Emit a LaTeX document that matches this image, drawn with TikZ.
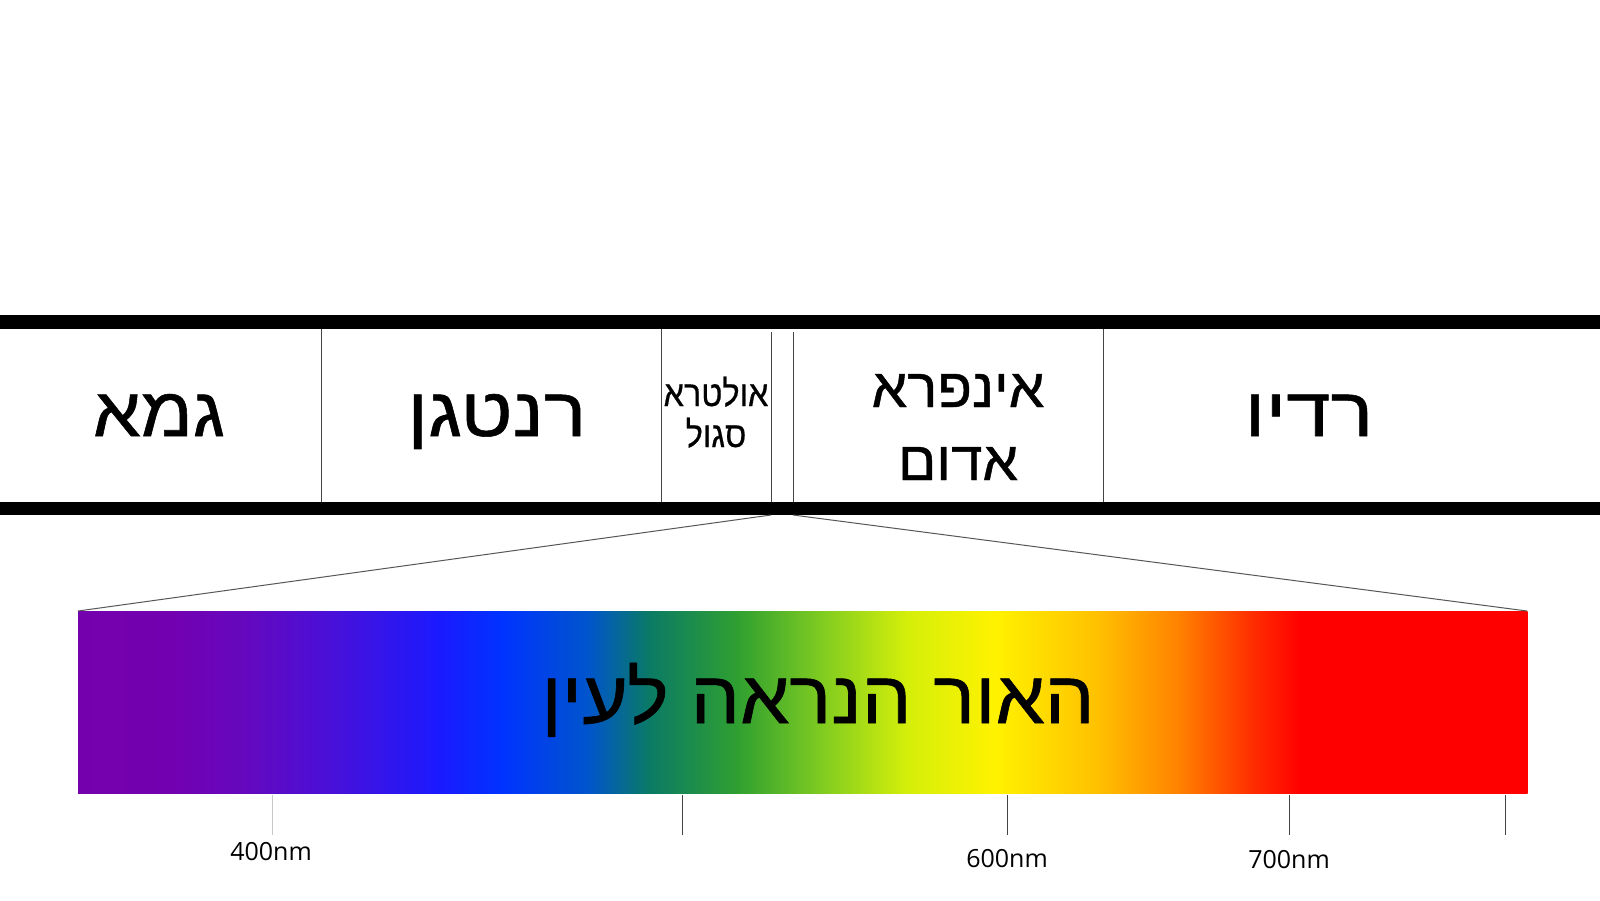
\documentclass[tikz,border=0pt]{standalone}
\usepackage{fontspec}
\TeXXeTstate=1
\newfontfamily\hebfont[Script=Hebrew,FakeStretch=1.1,FakeBold=0.8]{Liberation Sans}
\newfontfamily\hebwidefont[Script=Hebrew,FakeStretch=1.16,FakeBold=0.8]{Liberation Sans}
\newfontfamily\hebmidfont[Script=Hebrew,FakeStretch=1.03,FakeBold=0.8]{Liberation Sans}
\newfontfamily\hebvisfont[Script=Hebrew,FakeStretch=1.06,FakeBold=0.8]{Liberation Sans}
\newfontfamily\hebsmallfont[Script=Hebrew,FakeStretch=0.9,FakeBold=0.5]{Liberation Sans}
\newfontfamily\labfont{Open Sans}
\definecolor{c0}{HTML}{7400AD}
\definecolor{c1}{HTML}{7300B0}
\definecolor{c2}{HTML}{6508BF}
\definecolor{c3}{HTML}{4A10D8}
\definecolor{c4}{HTML}{1A1AFF}
\definecolor{c5}{HTML}{0033FF}
\definecolor{c6}{HTML}{0055CC}
\definecolor{c7}{HTML}{0A7A66}
\definecolor{c8}{HTML}{30A030}
\definecolor{c9}{HTML}{80CC20}
\definecolor{c10}{HTML}{D4EF0A}
\definecolor{c11}{HTML}{FFF200}
\definecolor{c12}{HTML}{FFC000}
\definecolor{c13}{HTML}{FF8000}
\definecolor{c14}{HTML}{FF3000}
\definecolor{c15}{HTML}{FF0000}
\definecolor{divgray}{HTML}{444444}
\definecolor{ticklight}{HTML}{C8C8C8}
\begin{document}
\begin{tikzpicture}[x=1pt,y=-1pt,
  divider/.style={draw=divgray, line width=1pt},
  zoomline/.style={draw=divgray!90, line width=1pt},
  tickline/.style={draw=divgray, line width=1pt},
  bigheb/.style={anchor=base, inner sep=0pt, font=\hebfont\fontsize{69pt}{75pt}\selectfont},
  wideheb/.style={anchor=base, inner sep=0pt, font=\hebwidefont\fontsize{69pt}{75pt}\selectfont},
  midheb/.style={anchor=base, inner sep=0pt, font=\hebmidfont\fontsize{55pt}{60pt}\selectfont},
  smallheb/.style={anchor=base, inner sep=0pt, font=\hebsmallfont\fontsize{36pt}{40pt}\selectfont},
  visheb/.style={anchor=base, inner sep=0pt, font=\hebvisfont\fontsize{74pt}{80pt}\selectfont},
  nmlabel/.style={anchor=base, inner sep=0pt, font=\labfont\fontsize{25pt}{30pt}\selectfont}
]
\useasboundingbox (0,0) rectangle (1600,900);
\fill[white] (0,0) rectangle (1600,900);

% dividers
\draw[divider] (321,329) -- (321,502);
\draw[divider] (661,329) -- (661,502);
\draw[divider] (771,332) -- (771,502);
\draw[divider] (793,332) -- (793,502);
\draw[divider] (1103,329) -- (1103,502);

% thick bars
\fill[black] (0,315) rectangle (1600,329);
\fill[black] (0,502) rectangle (1600,515);

% spectrum
\foreach \xa/\ca/\xb/\cb in {78/c0/170/c1, 170/c1/245/c2, 245/c2/330/c3, 330/c3/440/c4,
  440/c4/502/c5, 502/c5/588/c6, 588/c6/648/c7, 648/c7/738/c8, 738/c8/822/c9,
  822/c9/906/c10, 906/c10/995/c11, 995/c11/1098/c12, 1098/c12/1180/c13,
  1180/c13/1250/c14, 1250/c14/1300/c15, 1300/c15/1527/c15}
  \shade[left color=\ca, right color=\cb] (\xa,611) rectangle (\xb+0.6,793);

\coordinate (uvL) at (771,515);
\coordinate (uvR) at (793,515);
\coordinate (specNW) at (78,611);
\coordinate (specNE) at (1527,611);
\draw[zoomline] (uvL) -- (specNW);
\draw[zoomline] (uvR) -- (specNE);

% band labels
\node[bigheb] (gamma) at (159,436) {\beginR גמא\endR};
\node[wideheb] (xray) at (497,436) {\beginR רנטגן\endR};
\node[smallheb] (uv1) at (716,406) {\beginR אולטרא\endR};
\node[smallheb] (uv2) at (716,447) {\beginR סגול\endR};
\node[midheb] (ir1) at (958,407) {\beginR אינפרא\endR};
\node[midheb] (ir2) at (958,480) {\beginR אדום\endR};
\node[wideheb] (radio) at (1309,436) {\beginR רדיו\endR};
\node[visheb] (visible) at (818,723) {\beginR האור הנראה לעין\endR};

% ticks
\coordinate (t400a) at (272,795); \coordinate (t400b) at (272,835);
\coordinate (t500a) at (682,795); \coordinate (t500b) at (682,835);
\coordinate (t600a) at (1007,795); \coordinate (t600b) at (1007,835);
\coordinate (t700a) at (1289,795); \coordinate (t700b) at (1289,835);
\coordinate (t750a) at (1505,795); \coordinate (t750b) at (1505,835);
\draw[tickline, draw=ticklight] (t400a) -- (t400b);
\draw[tickline] (t500a) -- (t500b);
\draw[tickline] (t600a) -- (t600b);
\draw[tickline] (t700a) -- (t700b);
\draw[tickline] (t750a) -- (t750b);

\node[nmlabel] (l400) at (271,860) {400nm};
\node[nmlabel] (l600) at (1007,867) {600nm};
\node[nmlabel] (l700) at (1289,868) {700nm};
\end{tikzpicture}
\end{document}
